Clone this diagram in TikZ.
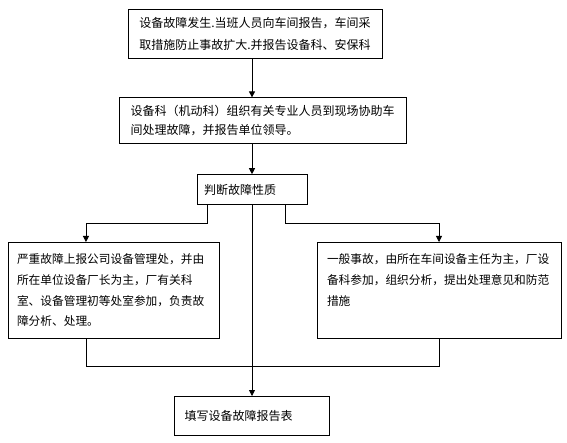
\documentclass[tikz,border=0pt]{standalone}
\usepackage{fontspec}
\newfontfamily\cjk{Noto Sans CJK SC}
\usetikzlibrary{arrows.meta, positioning, calc}

\begin{document}
\begin{tikzpicture}[
        x=1pt, y=-1pt,
        box/.style={rectangle, draw=black, line width=0.8pt, align=left, inner xsep=4pt,
            font=\cjk\fontsize{12pt}{22pt}\selectfont},
        bigbox/.style={box, inner xsep=9pt, inner ysep=0pt, text height=21.5pt, text depth=74.5pt,
            font=\cjk\fontsize{11.7pt}{20.7pt}\selectfont},
        arrow/.style={-{Triangle[width=6pt, length=6pt]}, line width=0.8pt},
        line/.style={line width=0.8pt}
    ]
        \useasboundingbox (0,0) rectangle (567,443);

        % Nodes
        \node (b1) [box, minimum width=254pt, minimum height=49pt] at (255,33.5)
            {设备故障发生.当班人员向车间报告，车间采\\取措施防止事故扩大.并报告设备科、安保科};
        \node (b2) [box, minimum width=287pt, minimum height=46pt, below=39pt of b1, xshift=7.5pt,
            font=\cjk\fontsize{12pt}{19pt}\selectfont]
            {设备科（机动科）组织有关专业人员到现场协助车\\间处理故障，并报告单位领导。};
        \node (b3) [box, minimum height=30pt, text width=96pt, inner xsep=7pt, below=30pt of b2, xshift=-10.5pt]
            {判断故障性质};
        \node (b4) [bigbox, text width=193pt, below=37pt of b3, xshift=-138.5pt]
            {严重故障上报公司设备管理处，并由\\所在单位设备厂长为主，厂有关科\\室、设备管理初等处室参加，负责故\\障分析、处理。};
        \node (b5) [bigbox, text width=224pt, inner xsep=10pt, below=37pt of b3, xshift=187pt]
            {一般事故，由所在车间设备主任为主，厂设\\备科参加，组织分析，提出处理意见和防范\\措施};
        \node (b6) [box, minimum height=39pt, text width=135pt, inner xsep=10pt, below=191pt of b3]
            {填写设备故障报告表};

        % Junction points
        \coordinate (sl) at ($(b3.south west)!0.1!(b3.south east)$);
        \coordinate (sr) at ($(b3.south west)!0.8!(b3.south east)$);
        \coordinate (tl) at ($(b4.north west)!0.37!(b4.north east)$);
        \coordinate (bl) at ($(b4.south west)!0.37!(b4.south east)$);

        % Arrows
        \draw [arrow] (b3 |- b1.south) -- (b3 |- b2.north);
        \draw [arrow] (b3 |- b2.south) -- (b3.north);
        \draw [arrow] (sl) -- ++(0,18) -| (tl);
        \draw [arrow] (sr) -- ++(0,18) -| (b5.north);
        \draw [arrow] (b3.south) -- (b6.north);
        \draw [line] (bl) -- ++(0,28) -| (b5.south);
    \end{tikzpicture}
\end{document}
